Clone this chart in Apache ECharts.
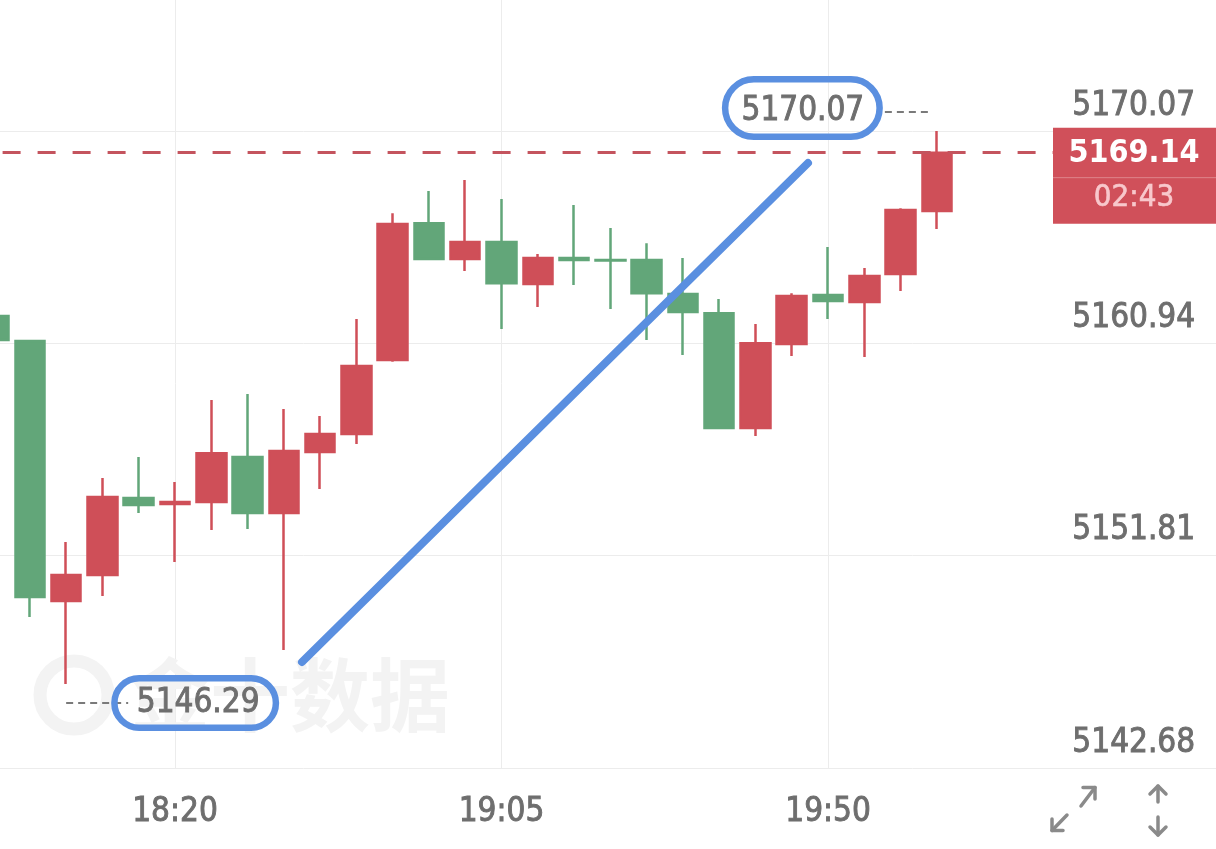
<!DOCTYPE html>
<html>
<head>
<meta charset="utf-8">
<script src="https://cdn.jsdelivr.net/npm/echarts@6/dist/echarts.min.js"></script>
<style>html,body{margin:0;padding:0;background:#fff;}#c{width:1216px;height:849px;}</style>
</head>
<body>
<div id="c"></div>
<script>
// ---- data ----
const times = ['17:55','18:00','18:05','18:10','18:15','18:20','18:25','18:30','18:35','18:40','18:45','18:50',
  '18:55','19:00','19:05','19:10','19:15','19:20','19:25','19:30','19:35','19:40','19:45','19:50','19:55',
  '20:00','20:05','20:10','20:15','20:20','20:25','20:30','20:35','20:40','20:45'];
const opens  = [5162.12,5161.04,5149.86,5150.98,5154.29,5154.03,5154.12,5156.05,5153.64,5156.27,5157.04,5160.22,
  5166.11,5164.57,5165.30,5163.49,5164.61,5164.52,5164.52,5163.06,5162.24,5157.30,5160.91,5163.02,5162.72,5163.92,5166.63];
const closes = [5161.08,5150.03,5150.98,5154.33,5153.99,5154.12,5156.22,5153.64,5156.31,5157.04,5159.97,5166.07,
  5164.57,5165.30,5163.53,5164.61,5164.52,5164.50,5163.10,5162.29,5157.30,5160.95,5162.98,5162.76,5163.84,5166.67,5169.14];
const lows   = [5160.90,5149.17,5146.29,5150.08,5153.64,5151.54,5152.91,5152.96,5147.75,5154.68,5156.61,5160.15,
  5164.52,5164.05,5161.56,5162.50,5163.45,5162.42,5161.08,5160.44,5157.30,5156.96,5160.40,5161.99,5160.35,5163.19,5165.86];
const highs  = [5162.40,5161.10,5152.40,5155.15,5156.05,5154.98,5158.50,5158.76,5158.12,5157.82,5161.99,5166.54,
  5167.49,5167.96,5167.15,5164.78,5166.89,5165.90,5165.25,5164.61,5162.85,5161.77,5163.10,5165.08,5164.18,5166.75,5170.07];
const yTicks = [5142.68, 5151.81, 5160.94, 5170.07];
const timeLabels = ['18:20', '19:05', '19:50'];
const countdown = '02:43';
const watermark = '金十数据';

// ---- chart ----
const FONT = '"DejaVu Sans Condensed","Liberation Sans Narrow",sans-serif';
const RED = '#cf4f58', GREEN = '#62a679', GRID = '#ececec', TXT = '#6e6e6e';
const candleData = opens.map((o, i) => [o, closes[i], lows[i], highs[i]]);
const isTick = (i, v) => timeLabels.indexOf(v) >= 0;
const yInterval = Math.round((yTicks[1] - yTicks[0]) * 100) / 100;

const chart = echarts.init(document.getElementById('c'), null, {renderer: 'canvas'});
chart.setOption({
  animation: false,
  backgroundColor: '#ffffff',
  grid: {left: -6.4, right: -11.1, top: -5, bottom: 81, containLabel: false, outerBoundsMode: 'none'},
  xAxis: {
    type: 'category', data: times, boundaryGap: false,
    axisLine: {show: false}, axisTick: {show: false},
    axisLabel: {interval: isTick, color: TXT, fontSize: 33, fontFamily: FONT, margin: 27, lineHeight: 34,
      textBorderColor: TXT, textBorderWidth: 0.9},
    splitLine: {show: true, interval: isTick, lineStyle: {color: GRID, width: 1}}
  },
  yAxis: {
    type: 'value', position: 'right', scale: true,
    min: yTicks[0], max: 5175.92, interval: yInterval,
    axisLine: {show: false}, axisTick: {show: false},
    splitLine: {show: true, showMaxLine: false, lineStyle: {color: GRID, width: 1}},
    axisLabel: {inside: true, margin: 32, align: 'right', verticalAlign: 'middle', lineHeight: 50,
      showMaxLabel: false, color: TXT, fontSize: 33, fontFamily: FONT,
      textBorderColor: TXT, textBorderWidth: 0.9,
      formatter: v => v.toFixed(2) + '\n '}
  },
  series: [{
    type: 'candlestick', data: candleData, barWidth: 30,
    itemStyle: {color: RED, color0: GREEN, borderColor: RED, borderColor0: GREEN, borderWidth: 2.5},
    markLine: {
      silent: true, symbol: ['none', 'none'], label: {show: false}, animation: false,
      lineStyle: {color: '#c4545e', width: 3, type: [18, 17], dashOffset: 26},
      data: [{yAxis: closes[closes.length - 1]}]
    }
  }]
});

// ---- overlay annotations positioned from data ----
let hiIdx = 0, loIdx = 0;
highs.forEach((h, i) => { if (h > highs[hiIdx]) hiIdx = i; });
lows.forEach((l, i) => { if (l < lows[loIdx]) loIdx = i; });
const P = (i, v) => chart.convertToPixel({xAxisIndex: 0, yAxisIndex: 0}, [i, v]);
const [hx, hy] = P(hiIdx, highs[hiIdx]);
const [lx, ly] = P(loIdx, lows[loIdx]);
const lastClose = closes[closes.length - 1];
const cy = P(closes.length - 1, lastClose)[1];
const BLUE = '#5a8fe0';
const LBL = '33px ' + FONT;

const g = [];
// watermark
g.push({type: 'circle', z: 1, shape: {cx: 74, cy: 695, r: 34}, style: {fill: 'none', stroke: '#f3f3f3', lineWidth: 13}});
g.push({type: 'text', z: 1, x: 130, y: 695, style: {text: watermark, font: 'bold 80px "Noto Sans CJK SC"', fill: '#f3f3f3', align: 'left', verticalAlign: 'middle'}});
// min annotation
g.push({type: 'line', z: 100, shape: {x1: lx, y1: ly + 19, x2: lx + 62, y2: ly + 19}, style: {stroke: '#7a7a7a', lineWidth: 2, lineDash: [7, 5]}});
g.push({type: 'rect', z: 101, shape: {x: lx + 48.25, y: ly - 5.75, width: 161.5, height: 49.5, r: 24.75}, style: {fill: 'none', stroke: BLUE, lineWidth: 6.5}});
g.push({type: 'text', z: 102, x: lx + 132, y: ly + 19, style: {text: lows[loIdx].toFixed(2), font: LBL, fill: TXT, stroke: TXT, lineWidth: 0.9, align: 'center', verticalAlign: 'middle'}});
// max annotation
g.push({type: 'line', z: 100, shape: {x1: hx - 52, y1: hy - 19, x2: hx - 6, y2: hy - 19}, style: {stroke: '#7a7a7a', lineWidth: 2, lineDash: [7, 5]}});
g.push({type: 'rect', z: 101, shape: {x: hx - 211.75, y: hy - 51.75, width: 154.5, height: 57.5, r: 28.75}, style: {fill: 'none', stroke: BLUE, lineWidth: 6.5}});
g.push({type: 'text', z: 102, x: hx - 134, y: hy - 20, style: {text: highs[hiIdx].toFixed(2), font: LBL, fill: TXT, stroke: TXT, lineWidth: 0.9, align: 'center', verticalAlign: 'middle'}});
// hand-drawn trend stroke
g.push({type: 'line', z: 103, shape: {x1: 302, y1: 662, x2: 808, y2: 163}, style: {stroke: BLUE, lineWidth: 8, lineCap: 'round'}});
// current price box
g.push({type: 'rect', z: 110, shape: {x: 1053, y: cy - 25, width: 163, height: 96}, style: {fill: '#d0505a'}});
g.push({type: 'line', z: 111, shape: {x1: 1053, y1: cy + 25, x2: 1216, y2: cy + 25}, style: {stroke: 'rgba(255,255,255,0.3)', lineWidth: 1}});
g.push({type: 'text', z: 112, x: 1134, y: cy + 1, style: {text: lastClose.toFixed(2), font: 'bold 32px ' + FONT, fill: '#ffffff', align: 'center', verticalAlign: 'middle'}});
g.push({type: 'text', z: 112, x: 1134, y: cy + 45, style: {text: countdown, font: '31px ' + FONT, fill: '#f8c8cc', stroke: '#f8c8cc', lineWidth: 0.6, align: 'center', verticalAlign: 'middle'}});
// corner icons
const IC = {stroke: '#8a8a8a', lineWidth: 3.5, fill: 'none', lineCap: 'round', lineJoin: 'round'};
g.push({type: 'polyline', z: 120, shape: {points: [[1081, 806], [1095, 787.5]]}, style: IC});
g.push({type: 'polyline', z: 120, shape: {points: [[1083, 787.5], [1095, 787.5], [1095, 799]]}, style: IC});
g.push({type: 'polyline', z: 120, shape: {points: [[1067, 815], [1052, 830.5]]}, style: IC});
g.push({type: 'polyline', z: 120, shape: {points: [[1052, 819], [1052, 830.5], [1063, 830.5]]}, style: IC});
g.push({type: 'polyline', z: 120, shape: {points: [[1158, 786], [1158, 802]]}, style: IC});
g.push({type: 'polyline', z: 120, shape: {points: [[1150, 794], [1158, 786], [1166, 794]]}, style: IC});
g.push({type: 'polyline', z: 120, shape: {points: [[1158, 817], [1158, 835]]}, style: IC});
g.push({type: 'polyline', z: 120, shape: {points: [[1150, 827], [1158, 835], [1166, 827]]}, style: IC});

chart.setOption({graphic: {elements: g}});
</script>
</body>
</html>
